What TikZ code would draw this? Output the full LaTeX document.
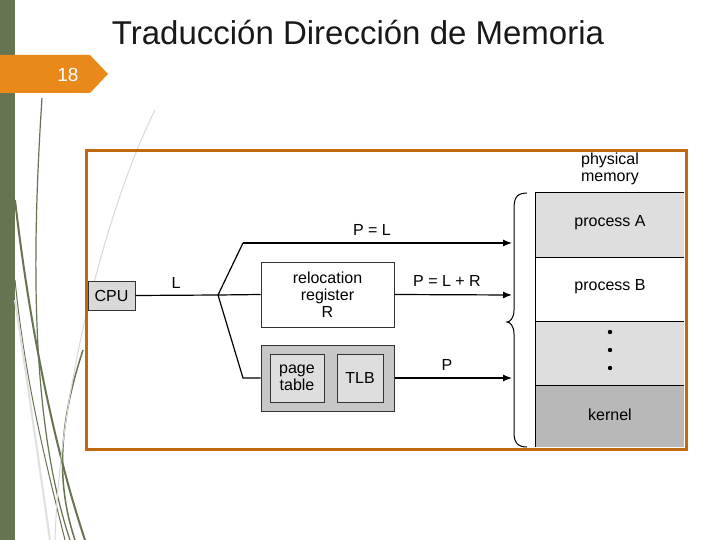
\documentclass[tikz,border=0pt]{standalone}
\usepackage{fontspec}
\setmainfont{Liberation Sans}
\usetikzlibrary{arrows.meta}
\begin{document}
\begin{tikzpicture}[x=1pt,y=-1pt,
  box/.style={draw=black!80,line width=1pt,inner sep=0pt,font=\fontsize{16}{17}\selectfont,align=center},
  lbl/.style={font=\fontsize{16}{17}\selectfont,inner sep=0pt},
  arr/.style={line width=1.2pt,-{Latex[length=9pt,width=7pt]}},
  ln/.style={line width=1.2pt}]
\useasboundingbox (0,0) rectangle (720,540);
\fill[white] (0,0) rectangle (720,540);
% left decor
\fill[color={rgb,255:red,102;green,116;blue,82}] (0,0) rectangle (15,540);
\begin{scope}[color={rgb,255:red,102;green,116;blue,82}]
\draw[line width=1.2pt] (42,98) .. controls (32,250) and (30,420) .. (70,540);
\draw[line width=2pt] (15,200) .. controls (30,330) and (55,450) .. (85,540);
\draw[line width=1.5pt] (83,350) .. controls (60,420) and (55,480) .. (75,540);
\draw[line width=1pt] (15,280) .. controls (25,380) and (45,460) .. (65,540);
\draw[black!15,line width=1pt] (155,110) .. controls (110,200) and (60,380) .. (55,540);
\draw[black!12,line width=2pt] (15,300) .. controls (30,400) and (40,470) .. (50,540);
\end{scope}
% tab
\fill[color={rgb,255:red,232;green,137;blue,26}] (0,55) -- (90,55) -- (108,74) -- (90,93) -- (0,93) -- cycle;
\node[text=white,font=\fontsize{19}{21}\selectfont] (num) at (68,75) {18};
\node[font=\fontsize{33}{36}\selectfont,text=black!90] (title) at (358,33) {Traducción Dirección de Memoria};
% frame
\draw[color={rgb,255:red,192;green,106;blue,16},line width=3pt] (86,151) rectangle (686,449);
% memory
\fill[black!13] (535,193) rectangle (684,257);
\fill[black!13] (535,321) rectangle (684,385);
\fill[black!28] (535,385) rectangle (684,447);
\draw[line width=1pt] (535,447) -- (535,193) -- (684,193);
\foreach \y in {257,321,385} \draw[line width=1pt] (535,\y) -- (684,\y);
\node[lbl] (pa) at (610,223) {process A};
\node[lbl] (pb) at (610,287) {process B};
\node[lbl] (ker) at (610,415) {kernel};
\foreach \y in {332,350,368} \fill (610,\y) circle (2.2pt);
\node[lbl,align=center] (pm) at (610,169) {physical\\memory};
% brace
\draw[line width=1pt] (527,193) .. controls (515,193) and (514,200) .. (514,210) -- (514,310) .. controls (514,318) and (510,322) .. (507,322) .. controls (510,322) and (514,326) .. (514,334) -- (514,432) .. controls (514,442) and (517,447) .. (527,447);
% CPU
\node[box,fill=black!15,minimum width=47pt,minimum height=29pt] (cpu) at (111.5,295.5) {CPU};
\coordinate (br) at (218,295);
\coordinate (t1) at (243,243);
\coordinate (t3) at (243,378);
\node[box,minimum width=133pt,minimum height=65pt] (rel) at (327.5,294.5) {relocation\\register\\R};
\node[box,fill=black!22,minimum width=133pt,minimum height=66pt] (pg) at (327.5,378) {};
\node[box,fill=black!13,minimum width=54pt,minimum height=48pt] (pt) at (297,378) {page\\table};
\node[box,fill=black!13,minimum width=46pt,minimum height=48pt] (tlb) at (360,378) {TLB};
\coordinate (e1) at (512,243);
\coordinate (e2) at (512,295);
\coordinate (e3) at (512,378);
\draw[ln] (cpu.east) -- (br);
\draw[ln] (br) -- (t1);
\draw[arr] (t1) -- (e1);
\draw[ln] (br) -- (rel.west);
\draw[ln] (br) -- (t3) -- (pg.west);
\draw[arr] (rel.east) -- (e2);
\draw[arr] (pg.east) -- (e3);
\node[lbl] (lL) at (176,283) {L};
\node[lbl] (lPL) at (372,230) {P = L};
\node[lbl] (lPLR) at (447,281) {P = L + R};
\node[lbl] (lP) at (447,365) {P};
\end{tikzpicture}
\end{document}
